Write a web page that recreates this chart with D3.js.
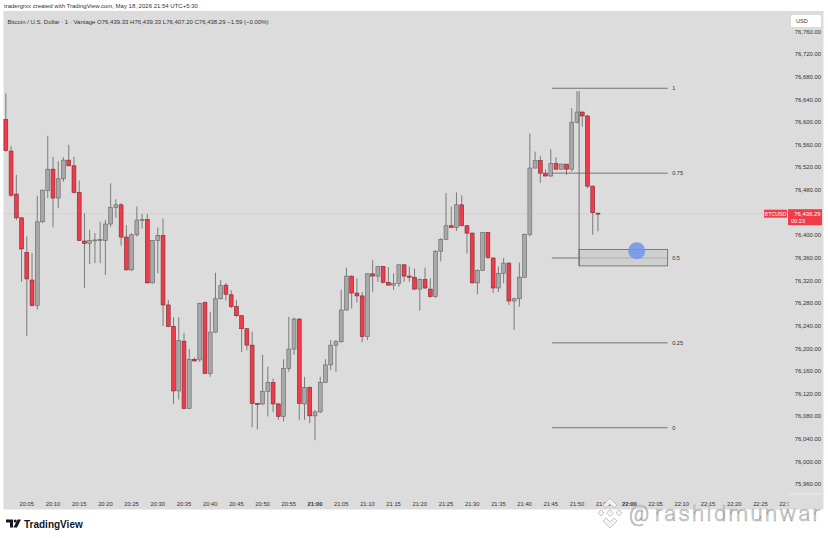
<!DOCTYPE html>
<html>
<head>
<meta charset="utf-8">
<script src="https://cdn.jsdelivr.net/npm/d3@7"></script>
<style>
  html, body { margin: 0; padding: 0; background: #fff; }
  svg { display: block; font-family: "Liberation Sans", "DejaVu Sans", sans-serif; }
</style>
</head>
<body>
<div class="chart"></div>
<script>
// one-minute candles, first one at 20:01
var opens = [76605,76549,76473,76431,76370,76321,76276,76424,76479,76517,76466,76500,76533,76523,76476,76390,76386,76391,76391,76391,
  76420,76449,76454,76397,76339,76401,76427,76428,76316,76391,76400,76277,76239,76125,76213,76094,76181,76180,76281,76156,
  76229,76288,76312,76295,76274,76258,76235,76206,76103,76102,76124,76140,76102,76080,76165,76199,76252,76102,76131,76081,
  76088,76140,76171,76206,76212,76268,76328,76298,76293,76221,76332,76328,76345,76317,76312,76315,76348,76328,76326,76305,
  76322,76305,76292,76372,76393,76417,76414,76454,76417,76404,76316,76338,76405,76360,76307,76333,76351,76284,76288,76326,
  76402,76519,76532,76510,76505,76527,76517,76526,76517,76600,76618,76611,76487,76439.33];
var highs = [76651,76558,76507,76432,76398,76369,76470,76480,76576,76539,76531,76538,76560,76539,76497,76439,76410,76404,76424,76427,
  76492,76464,76457,76418,76404,76451,76438,76438,76391,76414,76430,76286,76255,76255,76228,76199,76184,76281,76283,76265,
  76334,76321,76316,76303,76286,76259,76236,76230,76104,76189,76168,76147,76104,76181,76256,76255,76254,76150,76133,76091,
  76150,76181,76215,76215,76304,76343,76329,76324,76300,76333,76356,76346,76346,76344,76333,76349,76349,76345,76341,76324,
  76343,76324,76374,76395,76475,76451,76476,76471,76418,76405,76340,76406,76406,76361,76345,76360,76352,76290,76352,76403,
  76580,76548,76540,76517,76552,76538,76527,76526,76625,76655,76619,76613,76488,76439.33];
var lows = [76548,76468,76427,76318,76222,76274,76269,76422,76466,76414,76448,76495,76522,76474,76390,76307,76349,76351,76351,76330,
  76415,76431,76382,76338,76337,76398,76412,76315,76315,76333,76240,76238,76102,76110,76093,76093,76177,76176,76155,76150,
  76228,76286,76285,76271,76256,76194,76197,76061,76057,76100,76080,76088,76074,76071,76159,76189,76074,76074,76068,76038,
  76086,76139,76162,76159,76210,76267,76271,76281,76211,76215,76300,76318,76315,76312,76304,76309,76318,76318,76304,76267,
  76305,76290,76290,76354,76392,76413,76408,76416,76368,76315,76296,76337,76358,76298,76300,76315,76277,76233,76274,76325,
  76398,76518,76493,76504,76503,76516,76516,76507,76513,76598,76592,76483,76401,76407.2];
var closes = [76550,76471,76431,76376,76323,76276,76424,76480,76517,76466,76500,76533,76523,76476,76391,76386,76391,76392,76393,76420,
  76449,76454,76397,76339,76401,76427,76428,76316,76391,76400,76277,76239,76125,76214,76094,76181,76178,76280,76156,76229,
  76288,76311,76296,76274,76258,76235,76206,76103,76102,76124,76140,76102,76080,76165,76199,76252,76103,76131,76081,76088,
  76140,76171,76206,76212,76268,76328,76298,76293,76221,76332,76328,76345,76317,76312,76315,76348,76328,76326,76305,76322,
  76307,76292,76372,76393,76417,76414,76454,76417,76404,76316,76338,76405,76361,76307,76333,76351,76284,76288,76326,76402,
  76519,76532,76510,76505,76527,76517,76526,76517,76600,76618,76611,76487,76440,76438.29];

var priceTicks = [76760,76720,76680,76640,76600,76560,76520,76480,76440,76400,76360,76320,76280,76240,76200,76160,76120,76080,76040,76000,75960];
var fibLevels = [1, 0.75, 0.5, 0.25, 0];
var fibHigh = 76660, fibLow = 76060;
var lastPrice = 76438.29;

var W = 828, H = 538;
var svg = d3.select(".chart").append("svg").attr("width", W).attr("height", H);

var t0 = new Date(2026, 4, 18, 20, 0);
function minute(m) { return new Date(t0.getTime() + m * 60000); }

var x = d3.scaleTime()
    .domain([minute(0), minute(150)])
    .range([0.6, 786.6]);
var y = d3.scaleLinear()
    .domain([75960, 76760])
    .range([484.3, 31.7]);

var candles = opens.map(function (o, i) {
    return { t: minute(i + 1), o: o, h: highs[i], l: lows[i], c: closes[i] };
});

// backgrounds
svg.append("rect").attr("width", W).attr("height", H).attr("fill", "#ffffff");
svg.append("rect").attr("x", 3.5).attr("y", 11).attr("width", 820).attr("height", 498.5).attr("fill", "#dcdcdc");

svg.append("text").attr("x", 4).attr("y", 7.6).attr("font-size", 6).attr("fill", "#333")
    .text("tradergrxx created with TradingView.com, May 18, 2026 21:54 UTC+5:30");
svg.append("text").attr("x", 7.5).attr("y", 24.3).attr("font-size", 6).attr("fill", "#333")
    .text("Bitcoin / U.S. Dollar · 1 · Vantage  O76,439.33  H76,439.33  L76,407.20  C76,438.29  −1.59 (−0.00%)");

var plot = svg.append("g");

// last price line
plot.append("line")
    .attr("x1", 3.5).attr("x2", 788).attr("y1", y(lastPrice)).attr("y2", y(lastPrice))
    .attr("stroke", "#f0a0a6").attr("stroke-width", 0.6).attr("stroke-dasharray", "1,1.5");

// candles
var bw = 3.9;
var cg = plot.append("g").selectAll("g").data(candles).enter().append("g");
cg.append("line")
    .attr("x1", function (d) { return x(d.t); })
    .attr("x2", function (d) { return x(d.t); })
    .attr("y1", function (d) { return y(d.h); })
    .attr("y2", function (d) { return y(d.l); })
    .attr("stroke", "#7b7b7b").attr("stroke-width", 1);
cg.append("rect")
    .attr("x", function (d) { return x(d.t) - bw / 2; })
    .attr("y", function (d) { return y(Math.max(d.o, d.c)); })
    .attr("width", bw)
    .attr("height", function (d) { return Math.max(1, Math.abs(y(d.o) - y(d.c))); })
    .attr("fill", function (d) { return d.c >= d.o ? "#a8a8a8" : "#ef3b4a"; })
    .attr("stroke", function (d) { return d.c >= d.o ? "#666666" : "#7d2a31"; })
    .attr("stroke-width", 0.6);

// fib retracement drawing
var fibStart = minute(105.2), fibEnd = minute(127.3);
var fib = plot.append("g");
fib.selectAll("line").data(fibLevels).enter().append("line")
    .attr("x1", x(fibStart)).attr("x2", x(fibEnd))
    .attr("y1", function (d) { return y(fibLow + d * (fibHigh - fibLow)); })
    .attr("y2", function (d) { return y(fibLow + d * (fibHigh - fibLow)); })
    .attr("stroke", "#5a5a5a").attr("stroke-width", 0.8);
fib.selectAll("text").data(fibLevels).enter().append("text")
    .attr("x", x(fibEnd) + 4.5)
    .attr("y", function (d) { return y(fibLow + d * (fibHigh - fibLow)) + 2; })
    .attr("font-size", 5.6).attr("fill", "#333")
    .text(function (d) { return d; });

// box and vertical marker
var boxStart = minute(110.4);
fib.append("rect")
    .attr("x", x(boxStart)).attr("y", y(76375))
    .attr("width", x(fibEnd) - x(boxStart)).attr("height", y(76346) - y(76375))
    .attr("fill", "#c9c9c9").attr("fill-opacity", 0.7)
    .attr("stroke", "#666").attr("stroke-width", 0.8);
fib.append("line")
    .attr("x1", x(boxStart)).attr("x2", x(boxStart))
    .attr("y1", y(76655)).attr("y2", y(76346))
    .attr("stroke", "#666").attr("stroke-width", 0.9);
fib.append("circle")
    .attr("cx", x(minute(121.4))).attr("cy", y(76373)).attr("r", 8.5)
    .attr("fill", "#6e95ea").attr("fill-opacity", 0.85);

// price axis
var ya = svg.append("g");
ya.selectAll("text").data(priceTicks).enter().append("text")
    .attr("x", 821).attr("y", function (d) { return y(d) + 2; })
    .attr("text-anchor", "end").attr("font-size", 5.9).attr("fill", "#333")
    .text(function (d) { return d3.format(",.2f")(d); });
ya.append("line").attr("x1", 790).attr("x2", 822).attr("y1", 494).attr("y2", 494)
    .attr("stroke", "#f4f4f4").attr("stroke-width", 0.8);

// USD box
ya.append("rect").attr("x", 791).attr("y", 15).attr("width", 30).attr("height", 12).attr("rx", 1.5).attr("fill", "#fff");
ya.append("text").attr("x", 796).attr("y", 23).attr("font-size", 5.6).attr("fill", "#333").text("USD");

// last price labels
ya.append("rect").attr("x", 764).attr("y", y(lastPrice) - 4).attr("width", 23).attr("height", 8).attr("fill", "#ef3b4a");
ya.append("text").attr("x", 775.5).attr("y", y(lastPrice) + 2).attr("text-anchor", "middle")
    .attr("font-size", 5.3).attr("fill", "#fff").text("BTCUSD");
ya.append("rect").attr("x", 788).attr("y", y(lastPrice) - 4.5).attr("width", 34).attr("height", 16).attr("fill", "#ef3b4a");
ya.append("text").attr("x", 820.5).attr("y", y(lastPrice) + 2).attr("text-anchor", "end")
    .attr("font-size", 5.9).attr("fill", "#fff").text(d3.format(",.2f")(lastPrice));
ya.append("text").attr("x", 791).attr("y", y(lastPrice) + 9).attr("font-size", 5.6).attr("fill", "#fff").text("00:23");

// time axis
svg.append("clipPath").attr("id", "tclip").append("rect").attr("x", 0).attr("y", 490).attr("width", 789).attr("height", 20);
var xa = svg.append("g").attr("clip-path", "url(#tclip)");
var timeTicks = d3.range(5, 151, 5).map(minute);
xa.selectAll("text").data(timeTicks).enter().append("text")
    .attr("x", function (d) { return x(d); })
    .attr("y", 505.5)
    .attr("text-anchor", "middle")
    .attr("font-size", 5.8)
    .attr("font-weight", function (d) { return d.getMinutes() === 0 ? "bold" : "normal"; })
    .attr("fill", "#333")
    .text(d3.timeFormat("%H:%M"));

// footer logo
var logo = svg.append("g").attr("transform", "translate(6,519.5)");
logo.append("path").attr("d", "M0,0 H7 V8 H4 V3 H0 Z").attr("fill", "#131722");
logo.append("circle").attr("cx", 9.2).attr("cy", 1.5).attr("r", 1.5).attr("fill", "#131722");
logo.append("path").attr("d", "M11.5,0 H15 L11,8 H7.5 Z").attr("fill", "#131722");
svg.append("text").attr("x", 24).attr("y", 527.5).attr("font-size", 10).attr("font-weight", "bold")
    .attr("fill", "#131722").text("TradingView");

// watermark
var wm = svg.append("g")
    .attr("fill", "#f3f3f3").attr("fill-opacity", 0.9)
    .attr("stroke", "#a2a2a2").attr("stroke-width", 0.6);
wm.append("path").attr("d", "M610,498 L617,505 L614,508 L610,504 L606,508 L603,505 Z");
wm.append("path").attr("d", "M610,528 L617,521 L614,518 L610,522 L606,518 L603,521 Z");
wm.append("path").attr("d", "M598,513 L601,510 L604,513 L601,516 Z");
wm.append("path").attr("d", "M616,513 L619,510 L622,513 L619,516 Z");
wm.append("path").attr("d", "M610,509.5 L613.5,513 L610,516.5 L606.5,513 Z");
wm.append("text").attr("x", 629).attr("y", 521).attr("font-size", 22)
    .attr("font-family", "Roboto, sans-serif").attr("font-weight", 300)
    .text("@");
wm.append("text").attr("x", 655).attr("y", 520.5).attr("font-size", 22)
    .attr("font-family", "Roboto, sans-serif").attr("font-weight", 300)
    .attr("textLength", 165).attr("lengthAdjust", "spacing")
    .text("rashidmunwar");
</script>
</body>
</html>
